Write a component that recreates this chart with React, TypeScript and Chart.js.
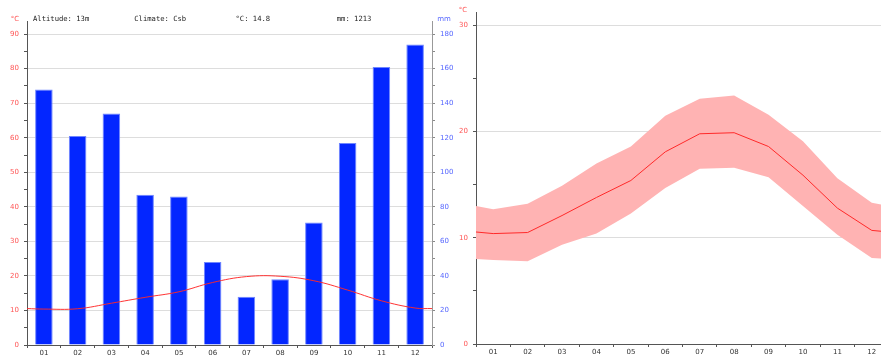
import React, { useEffect, useRef } from "react";
import { Chart, registerables } from "chart.js";

Chart.register(...registerables);

const months = ["01", "02", "03", "04", "05", "06", "07", "08", "09", "10", "11", "12"];
const precipitation = [148, 121, 134, 87, 86, 48, 28, 38, 71, 117, 161, 174];
const tempMean = [10.4, 10.5, 12.1, 13.8, 15.4, 18.1, 19.8, 19.9, 18.6, 15.9, 12.8, 10.7];
const tempMax = [12.7, 13.2, 14.9, 17.0, 18.6, 21.5, 23.1, 23.4, 21.6, 19.1, 15.6, 13.3];
const tempMin = [7.9, 7.8, 9.35, 10.4, 12.3, 14.7, 16.5, 16.6, 15.7, 13.0, 10.3, 8.1];
const altitude = "13m";
const climate = "Csb";
const avgTemp = "14.8";
const annualPrecip = "1213";

const RED_TXT = "#ff5555";
const BLUE_TXT = "#5566ff";
const AXIS = "#555";
const GRID = "#dddddd";
const TICK_FONT = { family: "DejaVu Sans", size: 7 };

// wrap-around points so the curve spans the full year
const yearPoints = (arr: number[]) => {
  const edge = (arr[0] + arr[arr.length - 1]) / 2;
  return [
    { x: 0, y: edge },
    ...arr.map((v, i) => ({ x: i + 0.5, y: v })),
    { x: 12, y: edge },
  ];
};

const monthAxis = (afterFitHeight: number) => ({
  type: "linear",
  min: 0,
  max: 12,
  offset: false,
  afterBuildTicks: (s: any) => {
    const t = [];
    for (let i = 0; i <= 24; i++) t.push({ value: i / 2 });
    s.ticks = t;
  },
  grid: {
    drawOnChartArea: false,
    offset: false,
    tickLength: 3,
    tickColor: (c: any) => (c.tick && c.tick.value % 1 === 0 ? AXIS : "rgba(0,0,0,0)"),
  },
  border: { color: AXIS },
  ticks: {
    autoSkip: false,
    maxRotation: 0,
    font: TICK_FONT,
    color: "#333",
    padding: 1,
    callback: (v: any) => (v % 1 === 0.5 ? months[Math.floor(v)] : ""),
  },
  afterFit: (s: any) => { s.height = afterFitHeight; },
});

const headerPlugin = {
  id: "header",
  afterDraw(chart: any) {
    const ctx = chart.ctx;
    const ca = chart.chartArea;
    ctx.save();
    ctx.textBaseline = "middle";
    ctx.font = "7.2px 'DejaVu Sans Mono'";
    ctx.fillStyle = "#222";
    ctx.textAlign = "left";
    const step = (ca.right - ca.left) / 4;
    const texts = [
      "Altitude: " + altitude,
      "Climate: " + climate,
      "°C: " + avgTemp,
      "mm: " + annualPrecip,
    ];
    texts.forEach((t, i) => ctx.fillText(t, ca.left + 6 + i * step, 19));
    ctx.font = "7px 'DejaVu Sans'";
    ctx.textAlign = "center";
    ctx.fillStyle = RED_TXT;
    ctx.fillText("°C", 15, 19);
    ctx.fillStyle = BLUE_TXT;
    ctx.fillText("mm", ca.right + 12, 19);
    ctx.restore();
  },
};

const unitPlugin = {
  id: "unit",
  afterDraw(chart: any) {
    const ctx = chart.ctx;
    ctx.save();
    ctx.textBaseline = "middle";
    ctx.textAlign = "center";
    ctx.font = "7px 'DejaVu Sans'";
    ctx.fillStyle = RED_TXT;
    ctx.fillText("°C", 6, 10);
    ctx.restore();
  },
};

function LeftChart() {
  const ref = useRef<HTMLCanvasElement>(null);
  useEffect(() => {
    const chart = new Chart(ref.current!, {
      type: "bar",
      data: {
        datasets: [
          {
            type: "line",
            data: yearPoints(tempMean) as any,
            xAxisID: "x",
            yAxisID: "yT",
            borderColor: "rgba(255,40,40,0.95)",
            borderWidth: 1,
            pointRadius: 0,
            tension: 0.4,
            order: 0,
          } as any,
          {
            type: "bar",
            data: precipitation.map((v, i) => ({ x: i + 0.5, y: v })) as any,
            xAxisID: "x",
            yAxisID: "yP",
            backgroundColor: "#0326ff",
            borderColor: "#6f86ff",
            borderWidth: 1,
            barPercentage: 1.04,
            categoryPercentage: 1,
            grouped: false,
            order: 1,
          } as any,
        ],
      },
      options: {
        responsive: false,
        animation: false,
        layout: { padding: { top: 21, left: 0, right: 0, bottom: 0 } },
        plugins: { legend: { display: false }, tooltip: { enabled: false } },
        scales: {
          x: monthAxis(14),
          yT: {
            type: "linear",
            position: "left",
            min: 0,
            max: 93.8,
            grid: {
              color: (c: any) => (c.tick && c.tick.value % 10 === 0 && c.tick.value > 0 ? GRID : "rgba(0,0,0,0)"),
              tickColor: AXIS,
              tickLength: 3,
            },
            border: { color: AXIS },
            ticks: {
              stepSize: 5,
              includeBounds: false,
              autoSkip: false,
              font: TICK_FONT,
              color: RED_TXT,
              padding: 5,
              callback: (v: any) => (v % 10 === 0 ? String(v) : ""),
            },
            afterFit: (s: any) => { s.width = 27; },
          },
          yP: {
            type: "linear",
            position: "right",
            min: 0,
            max: 187.6,
            grid: { drawOnChartArea: false, tickColor: "#888", tickLength: 3 },
            border: { color: "#999" },
            ticks: {
              stepSize: 10,
              includeBounds: false,
              autoSkip: false,
              font: TICK_FONT,
              color: BLUE_TXT,
              padding: 5,
              callback: (v: any) => (v % 20 === 0 ? String(v) : ""),
            },
            afterFit: (s: any) => { s.width = 25; },
          },
        } as any,
      },
      plugins: [headerPlugin],
    });
    return () => chart.destroy();
  }, []);
  return <canvas ref={ref} width={457} height={359} style={{ display: "block" }} />;
}

function RightChart() {
  const ref = useRef<HTMLCanvasElement>(null);
  useEffect(() => {
    const chart = new Chart(ref.current!, {
      type: "line",
      data: {
        datasets: [
          {
            data: yearPoints(tempMean) as any,
            borderWidth: 1,
            borderColor: "#ff2a2a",
            pointRadius: 0,
            fill: false,
            tension: 0,
            order: -1,
          },
          {
            data: yearPoints(tempMax) as any,
            borderWidth: 0,
            borderColor: "rgba(0,0,0,0)",
            backgroundColor: "#ffb3b3",
            pointRadius: 0,
            fill: "+1",
            tension: 0,
          },
          {
            data: yearPoints(tempMin) as any,
            borderWidth: 0,
            borderColor: "rgba(0,0,0,0)",
            pointRadius: 0,
            fill: false,
            tension: 0,
          },
        ],
      },
      options: {
        responsive: false,
        animation: false,
        layout: { padding: { top: 12, left: 0, right: 0, bottom: 0 } },
        plugins: { legend: { display: false }, tooltip: { enabled: false } },
        scales: {
          x: monthAxis(15),
          y: {
            type: "linear",
            min: 0,
            max: 31.27,
            grid: {
              color: (c: any) => (c.tick && c.tick.value % 10 === 0 && c.tick.value > 0 ? GRID : "rgba(0,0,0,0)"),
              tickColor: AXIS,
              tickLength: 3,
            },
            border: { color: AXIS },
            ticks: {
              stepSize: 5,
              includeBounds: false,
              autoSkip: false,
              font: TICK_FONT,
              color: RED_TXT,
              padding: 5,
              callback: (v: any) => (v % 10 === 0 ? String(v) : ""),
            },
            afterFit: (s: any) => { s.width = 19; },
          },
        } as any,
      },
      plugins: [unitPlugin],
    });
    return () => chart.destroy();
  }, []);
  return <canvas ref={ref} width={433} height={359} style={{ display: "block" }} />;
}

export default function App() {
  return (
    <div
      style={{
        position: "fixed",
        left: 0,
        top: 0,
        width: 881,
        height: 359,
        overflow: "hidden",
        background: "#fff",
      }}
    >
      <div style={{ position: "absolute", left: 0, top: 0 }}>
        <LeftChart />
      </div>
      <div style={{ position: "absolute", left: 457, top: 0 }}>
        <RightChart />
      </div>
    </div>
  );
}
